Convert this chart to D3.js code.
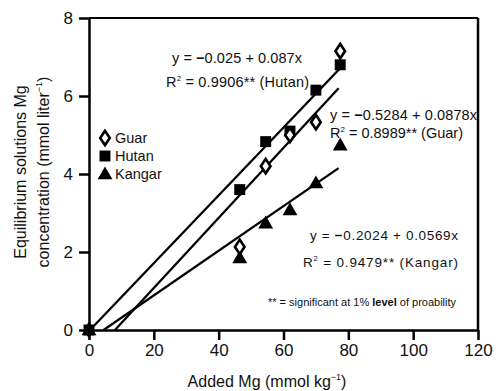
<!DOCTYPE html>
<html><head><meta charset="utf-8">
<script src="https://cdn.jsdelivr.net/npm/d3@7"></script>
<style>
body{margin:0;background:#fff;}
svg{display:block;font-family:"Liberation Sans",Arial,sans-serif;}
</style></head>
<body><svg id="c" width="499" height="391"></svg>
<script>
const addedMg = [0, 46.5, 54.5, 62, 70, 77.5];
const guar   = [0, 2.13, 4.2, 5.0, 5.33, 7.15];
const hutan  = [0, 3.6, 4.83, 5.1, 6.15, 6.8];
const kangar = [0, 1.85, 2.74, 3.08, 3.77, 4.74];
// fitted lines drawn in the figure: [x0, y0, x1, y1] in data units
const hutanFit  = [0.3, 0, 78.5, 6.8];
const guarFit   = [8.0, 0, 77, 6.2];
const kangarFit = [4.5, 0, 77, 4.15];
const xTicks = [0, 20, 40, 60, 80, 100, 120];
const yTicks = [0, 2, 4, 6, 8];

const svg = d3.select("#c");
const x = d3.scaleLinear([0, 120], [89, 478]);
const y = d3.scaleLinear([0, 8], [330, 18]);

// frame top/right
svg.append("line").attr("x1", x(0)).attr("x2", x(120)).attr("y1", y(8)).attr("y2", y(8))
  .attr("stroke", "#000").attr("stroke-width", 2.2);
svg.append("line").attr("x1", x(120)).attr("x2", x(120)).attr("y1", y(8)).attr("y2", y(0))
  .attr("stroke", "#000").attr("stroke-width", 2.5);

const gx = svg.append("g").attr("transform", `translate(0,${y(0)})`)
  .call(d3.axisBottom(x).tickValues(xTicks).tickSize(10).tickSizeOuter(0).tickPadding(4));
const gy = svg.append("g").attr("transform", `translate(${x(0)},0)`)
  .call(d3.axisLeft(y).tickValues(yTicks).tickSize(10).tickSizeOuter(0).tickPadding(6));
[gx, gy].forEach(g => {
  g.select(".domain").attr("stroke-width", 2.5);
  g.selectAll(".tick line").attr("stroke-width", 2.5);
  g.selectAll(".tick text").attr("font-size", 17).attr("fill", "#111")
    .attr("font-family", "'Liberation Sans',Arial,sans-serif");
});

// fit lines
[hutanFit, guarFit, kangarFit].forEach(f => {
  svg.append("line").attr("x1", x(f[0])).attr("y1", y(f[1])).attr("x2", x(f[2])).attr("y2", y(f[3]))
    .attr("stroke", "#000").attr("stroke-width", 2.3);
});

const tri = d3.symbol().type(d3.symbolTriangle).size(95);
const sq = d3.symbol().type(d3.symbolSquare).size(120);
const dia = d3.symbol().type(d3.symbolDiamond).size(60);

function drawTri(cx, cy) {
  svg.append("path").attr("d", tri()).attr("transform", `translate(${cx},${cy + 1})`).attr("fill", "#000");
}
function drawSq(cx, cy) {
  svg.append("path").attr("d", sq()).attr("transform", `translate(${cx},${cy})`).attr("fill", "#000");
}
function drawDia(cx, cy) {
  svg.append("path").attr("d", dia()).attr("transform", `translate(${cx},${cy}) scale(1.15,1)`)
    .attr("fill", "#fff").attr("stroke", "#000").attr("stroke-width", 2.4);
}
addedMg.forEach((v, i) => drawTri(x(v), y(kangar[i])));
addedMg.forEach((v, i) => drawSq(x(v), y(hutan[i])));
addedMg.forEach((v, i) => { if (i > 0) drawDia(x(v), y(guar[i])); });
// origin blob (overlapping markers)
svg.append("path").attr("d", d3.symbol().type(d3.symbolDiamond).size(90)())
  .attr("transform", `translate(${x(0)},${y(0)})`).attr("fill", "#000");

// legend
const legend = [["Guar", drawDia, 138], ["Hutan", drawSq, 156], ["Kangar", drawTri, 174]];
legend.forEach(([name, fn, ly]) => {
  fn(105, ly);
  svg.append("text").attr("x", 115).attr("y", ly).attr("dy", "0.36em")
    .attr("font-size", 14.5).attr("fill", "#111").text(name);
});

// annotations
function eq(xp, yp, w, parts, fs) {
  const t = svg.append("text").attr("x", xp).attr("y", yp).attr("dy", "0.36em")
    .attr("font-size", fs).attr("fill", "#111");
  parts.forEach(p => {
    const s = t.append("tspan").text(p.t);
    if (p.sup) s.attr("font-size", fs * 0.55).attr("dy", -6);
    if (p.down) s.attr("dy", 6);
    if (p.bold) s.attr("font-weight", "bold");
  });
  if (w) t.attr("textLength", w).attr("lengthAdjust", "spacing");
  return t;
}
eq(172, 58, 130, [{t: "y = "}, {t: "−", bold: true}, {t: "0.025 + 0.087x"}], 14.5);
eq(166, 82, 143, [{t: "R"}, {t: "2", sup: true}, {t: " = 0.9906", down: true}, {t: "**  (Hutan)"}], 14.5);
eq(330, 115, 147, [{t: "y = "}, {t: "−", bold: true}, {t: "0.5284 + 0.0878x"}], 14.5);
eq(330, 133, 133, [{t: "R"}, {t: "2", sup: true}, {t: " = 0.8989", down: true}, {t: "**  (Guar)"}], 14.5);
eq(310, 235, 148, [{t: "y = "}, {t: "−", bold: true}, {t: "0.2024 + 0.0569x"}], 13.5);
eq(303, 262, 155, [{t: "R"}, {t: "2", sup: true}, {t: " = 0.9479", down: true}, {t: "**  (Kangar)"}], 13.5);
eq(268, 302, null, [{t: "** = significant at 1% "}, {t: "level", bold: true}, {t: " of proability"}], 11);

// axis titles
const xt = svg.append("text").attr("x", 267).attr("y", 381).attr("dy", "0.36em")
  .attr("text-anchor", "middle").attr("font-size", 16).attr("fill", "#111");
xt.append("tspan").text("Added Mg (mmol kg");
xt.append("tspan").text("−1").attr("font-size", 9).attr("dy", -7);
xt.append("tspan").text(")").attr("dy", 7);

const yt = svg.append("g").attr("transform", "translate(0,172) rotate(-90)");
yt.append("text").attr("x", 0).attr("y", 20).attr("dy", "0.36em").attr("text-anchor", "middle")
  .attr("font-size", 16).attr("fill", "#111").text("Equilibrium solutions Mg");
const yt2 = yt.append("text").attr("x", 0).attr("y", 43).attr("dy", "0.36em").attr("text-anchor", "middle")
  .attr("font-size", 16).attr("fill", "#111");
yt2.append("tspan").text("concentration (mmol liter");
yt2.append("tspan").text("−1").attr("font-size", 9).attr("dy", -7);
yt2.append("tspan").text(")").attr("dy", 7);
</script></body></html>
